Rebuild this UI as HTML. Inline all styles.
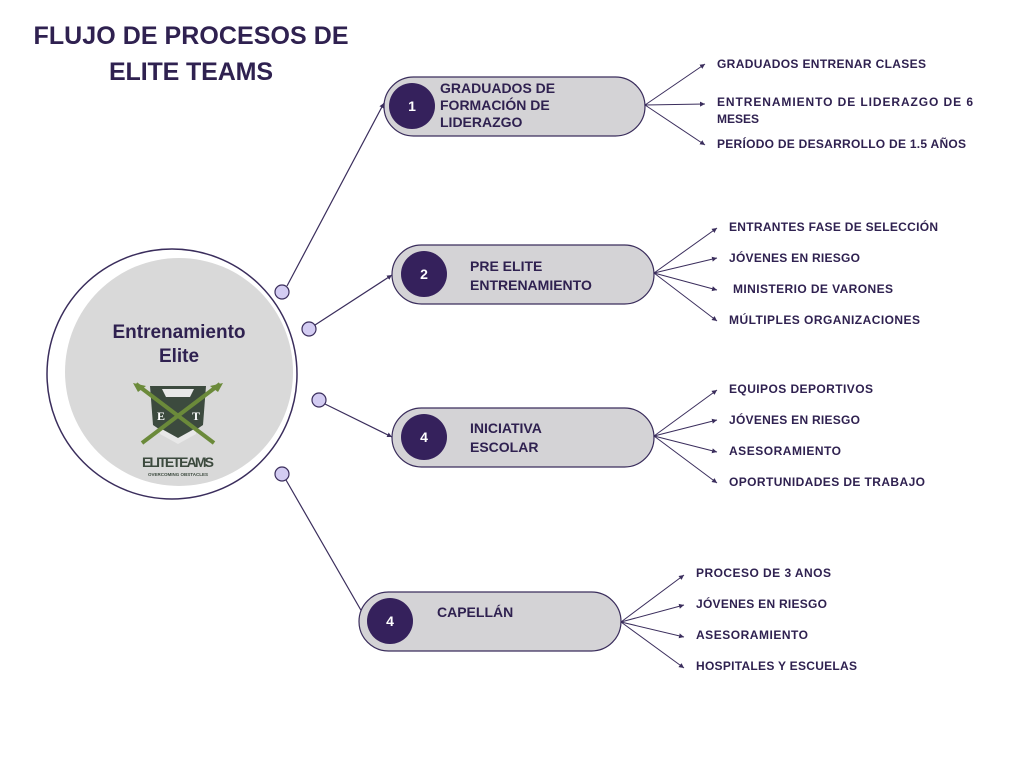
<!DOCTYPE html>
<html><head><meta charset="utf-8"><style>
html,body{margin:0;padding:0;background:#fff;}
svg{display:block;}
text{font-family:"Liberation Sans",sans-serif;font-weight:bold;fill:#2f2150;}
</style></head><body>
<svg width="1024" height="768" viewBox="0 0 1024 768" xmlns="http://www.w3.org/2000/svg">
<defs>
<marker id="ar" markerWidth="6" markerHeight="6" refX="5" refY="3" orient="auto" markerUnits="userSpaceOnUse">
<path d="M0,0.5 L5,3 L0,5.5 z" fill="#3a2d5c"/>
</marker>
</defs>
<text x="191" y="44" font-size="25" text-anchor="middle" textLength="315">FLUJO DE PROCESOS DE</text>
<text x="191" y="80" font-size="25" text-anchor="middle" textLength="164">ELITE TEAMS</text>

<!-- main circle -->
<circle cx="172" cy="374" r="125" fill="#fff" stroke="#3a2d5c" stroke-width="1.5"/>
<circle cx="179" cy="372" r="114" fill="#d9d9d9"/>
<text x="179" y="338" font-size="19" text-anchor="middle">Entrenamiento</text>
<text x="179" y="362" font-size="19" text-anchor="middle">Elite</text>
<!-- logo -->
<g>
<path d="M150,386 L206,386 L203,425 L178,442 L153,425 Z" fill="#3c4a3e"/>
<path d="M162,389 L194,389 L190,397 L166,397 Z" fill="#e8e8e8"/>
<path d="M160,428 L178,438 L196,428 L196,434 L178,444 L160,434 Z" fill="#e8e8e8"/>
<line x1="136" y1="384" x2="214" y2="443" stroke="#6b8a3a" stroke-width="4"/>
<line x1="220" y1="384" x2="142" y2="443" stroke="#6b8a3a" stroke-width="4"/>
<path d="M133,383 L146,386 L138,392 Z" fill="#6b8a3a"/>
<path d="M223,383 L210,386 L218,392 Z" fill="#6b8a3a"/>
<text x="157" y="420" font-size="12" style="fill:#fff;font-family:'Liberation Serif',serif">E</text>
<text x="192" y="420" font-size="12" style="fill:#fff;font-family:'Liberation Serif',serif">T</text>
<text x="178" y="467" font-size="14" text-anchor="middle" style="fill:#3c4a3e" textLength="72">ELITETEAMS</text>
<text x="178" y="476" font-size="4.5" text-anchor="middle" style="fill:#3c4a3e">OVERCOMING OBSTACLES</text>
</g>

<!-- connectors from circle -->
<g stroke="#3a2d5c" stroke-width="1.2" fill="none">
<line x1="287" y1="286" x2="384" y2="103" marker-end="url(#ar)"/>
<line x1="315" y1="325" x2="392" y2="275" marker-end="url(#ar)"/>
<line x1="325" y1="404" x2="392" y2="437" marker-end="url(#ar)"/>
<line x1="286" y1="480" x2="366" y2="619" marker-end="url(#ar)"/>
</g>
<g fill="#d3ccf2" stroke="#3a2d5c" stroke-width="1.2">
<circle cx="282" cy="292" r="7"/>
<circle cx="309" cy="329" r="7"/>
<circle cx="319" cy="400" r="7"/>
<circle cx="282" cy="474" r="7"/>
</g>

<!-- pills -->
<g stroke="#3a2d5c" stroke-width="1.2" fill="#d4d3d6">
<rect x="384" y="77" width="261" height="59" rx="29.5"/>
<rect x="392" y="245" width="262" height="59" rx="29.5"/>
<rect x="392" y="408" width="262" height="59" rx="29.5"/>
<rect x="359" y="592" width="262" height="59" rx="29.5"/>
</g>
<g fill="#35215c">
<circle cx="412" cy="106" r="23"/>
<circle cx="424" cy="274" r="23"/>
<circle cx="424" cy="437" r="23"/>
<circle cx="390" cy="621" r="23"/>
</g>
<g font-size="14" text-anchor="middle">
<text x="412" y="111" style="fill:#fff">1</text>
<text x="424" y="279" style="fill:#fff">2</text>
<text x="424" y="442" style="fill:#fff">4</text>
<text x="390" y="626" style="fill:#fff">4</text>
</g>
<g font-size="14">
<text x="440" y="93">GRADUADOS DE</text>
<text x="440" y="110">FORMACIÓN DE</text>
<text x="440" y="127">LIDERAZGO</text>
<text x="470" y="271">PRE ELITE</text>
<text x="470" y="290">ENTRENAMIENTO</text>
<text x="470" y="433">INICIATIVA</text>
<text x="470" y="452">ESCOLAR</text>
<text x="437" y="617">CAPELLÁN</text>
</g>

<!-- branch lines -->
<g stroke="#3a2d5c" stroke-width="1" fill="none" marker-end="url(#ar)">
<line x1="645" y1="105" x2="705" y2="64"/>
<line x1="645" y1="105" x2="705" y2="104"/>
<line x1="645" y1="105" x2="705" y2="145"/>
<line x1="654" y1="273" x2="717" y2="228"/>
<line x1="654" y1="273" x2="717" y2="258"/>
<line x1="654" y1="273" x2="717" y2="290"/>
<line x1="654" y1="273" x2="717" y2="321"/>
<line x1="654" y1="436" x2="717" y2="390"/>
<line x1="654" y1="436" x2="717" y2="420"/>
<line x1="654" y1="436" x2="717" y2="452"/>
<line x1="654" y1="436" x2="717" y2="483"/>
<line x1="621" y1="622" x2="684" y2="575"/>
<line x1="621" y1="622" x2="684" y2="605"/>
<line x1="621" y1="622" x2="684" y2="637"/>
<line x1="621" y1="622" x2="684" y2="668"/>
</g>
<g font-size="12">
<text x="717" y="68" textLength="209">GRADUADOS ENTRENAR CLASES</text>
<text x="717" y="106" textLength="256">ENTRENAMIENTO DE LIDERAZGO DE 6</text>
<text x="717" y="123">MESES</text>
<text x="717" y="148" textLength="249">PERÍODO DE DESARROLLO DE 1.5 AÑOS</text>
<text x="729" y="231" textLength="209">ENTRANTES FASE DE SELECCIÓN</text>
<text x="729" y="262" textLength="131">JÓVENES EN RIESGO</text>
<text x="733" y="293" textLength="160">MINISTERIO DE VARONES</text>
<text x="729" y="324" textLength="191">MÚLTIPLES ORGANIZACIONES</text>
<text x="729" y="393" textLength="144">EQUIPOS DEPORTIVOS</text>
<text x="729" y="424" textLength="131">JÓVENES EN RIESGO</text>
<text x="729" y="455" textLength="112">ASESORAMIENTO</text>
<text x="729" y="486" textLength="196">OPORTUNIDADES DE TRABAJO</text>
<text x="696" y="577" textLength="135">PROCESO DE 3 ANOS</text>
<text x="696" y="608" textLength="131">JÓVENES EN RIESGO</text>
<text x="696" y="639" textLength="112">ASESORAMIENTO</text>
<text x="696" y="670" textLength="161">HOSPITALES Y ESCUELAS</text>
</g>
</svg>
</body></html>
